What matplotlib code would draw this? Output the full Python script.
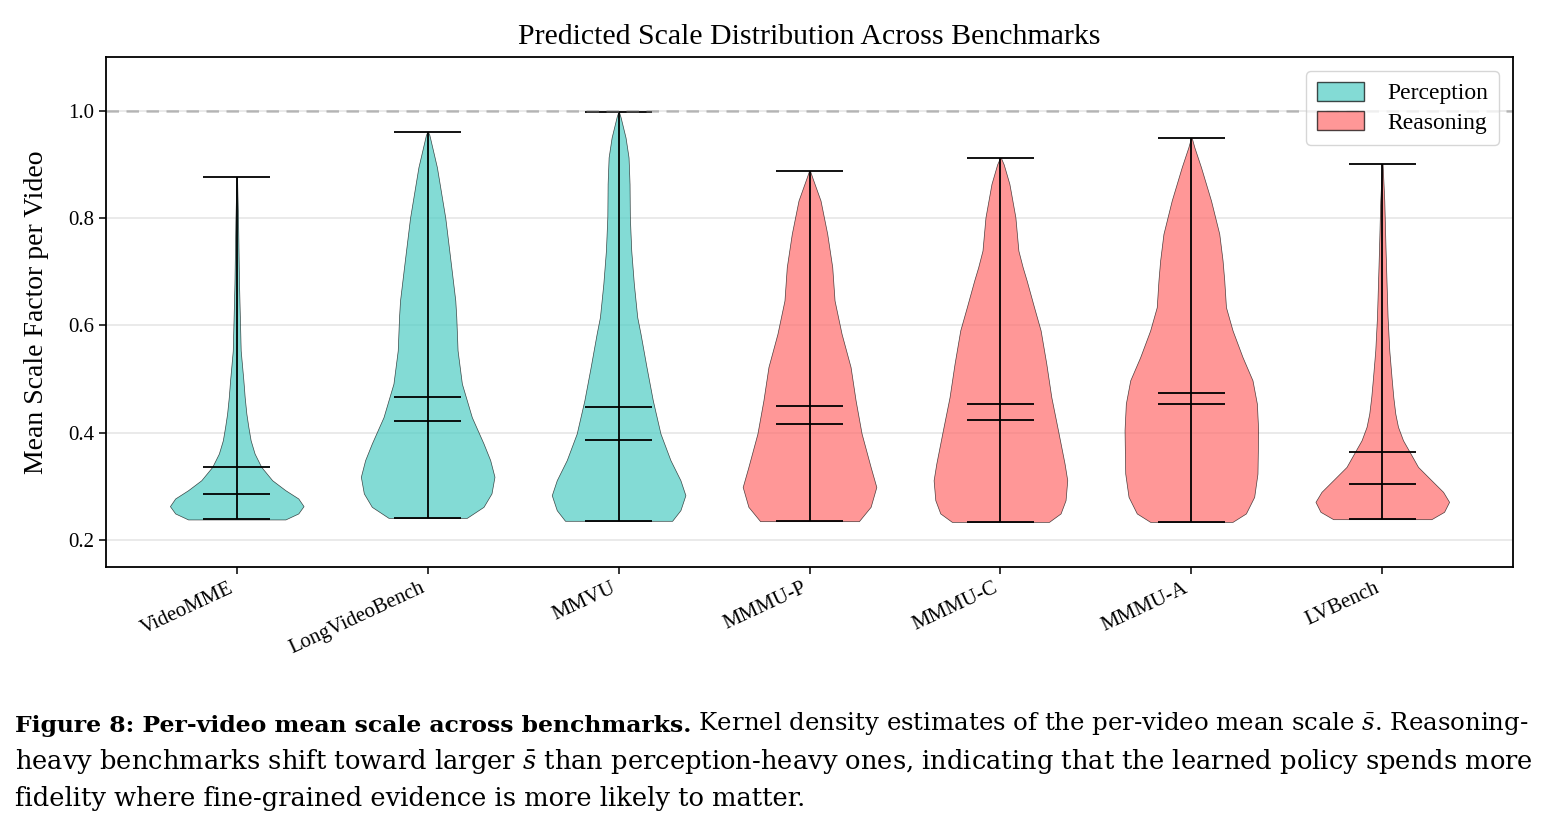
import matplotlib
matplotlib.use('Agg')
import matplotlib.pyplot as plt
from matplotlib.patches import Patch
import numpy as np

plt.rcParams['font.family'] = 'Liberation Serif'
plt.rcParams['mathtext.fontset'] = 'dejavuserif'

benchmarks = ['VideoMME', 'LongVideoBench', 'MMVU', 'MMMU-P', 'MMMU-C', 'MMMU-A', 'LVBench']
groups = ['Perception', 'Perception', 'Perception', 'Reasoning', 'Reasoning', 'Reasoning', 'Reasoning']
means = [0.337, 0.467, 0.448, 0.449, 0.454, 0.475, 0.364]
medians = [0.285, 0.422, 0.387, 0.416, 0.424, 0.453, 0.304]

# density outlines (scale value, relative half width)
videomme_y = [0.2385, 0.2497, 0.2633, 0.2776, 0.293, 0.3116, 0.3364, 0.3613, 0.386, 0.411, 0.4357, 0.4666,
              0.4977, 0.553, 0.678, 0.80, 0.876]
videomme_w = [49, 62, 67.3, 62, 49, 35.7, 24.7, 18, 14, 11.7, 9.7, 8, 6.7, 4, 2.3, 1.3, 0.3]
longvideo_y = [0.2415, 0.262, 0.287, 0.318, 0.349, 0.380, 0.429, 0.4916, 0.5535, 0.6155, 0.6465, 0.7085,
               0.80, 0.8945, 0.955, 0.960]
longvideo_w = [39.3, 56, 64, 67, 62.7, 56, 44.3, 34.3, 30, 28.7, 27.7, 23.7, 17.7, 9.3, 1.7, 0.5]
mmvu_y = [0.236, 0.2558, 0.2837, 0.3116, 0.349, 0.3985, 0.4605, 0.5225, 0.5845, 0.6155, 0.6776, 0.7395,
          0.8015, 0.8636, 0.913, 0.950, 0.988, 0.997]
mmvu_w = [53.7, 62, 67, 62, 52, 42, 34.3, 28, 22, 18.7, 15.3, 12.7, 11.3, 11, 10, 7, 2, 0.5]
mmmup_y = [0.2353, 0.262, 0.299, 0.3364, 0.3985, 0.4605, 0.5225, 0.5845, 0.6465, 0.7085, 0.7705, 0.8326,
           0.876, 0.888]
mmmup_w = [49.3, 61, 66.7, 61, 52, 46, 41, 32, 25, 22.7, 17.7, 11, 2.7, 0.5]
mmmuc_y = [0.234, 0.2497, 0.2744, 0.3116, 0.3427, 0.4047, 0.4666, 0.5287, 0.5907, 0.634, 0.6837, 0.7085,
           0.7395, 0.8015, 0.8636, 0.900, 0.912]
mmmuc_w = [48.7, 60.3, 65.3, 67, 64.3, 57.7, 51, 46, 40.3, 33.7, 26.3, 22.3, 18, 15, 9, 3.3, 0.5]
mmmua_y = [0.234, 0.2497, 0.2806, 0.324, 0.4047, 0.4543, 0.4977, 0.541, 0.5907, 0.634, 0.6837, 0.721,
           0.7705, 0.8326, 0.8945, 0.932, 0.9486]
mmmua_w = [41.3, 54.7, 63, 66.3, 67, 65.7, 61.3, 51.3, 41.3, 34.7, 33, 31.3, 28, 19.7, 9.7, 3, 0.5]
lvbench_y = [0.239, 0.2527, 0.2713, 0.2899, 0.3116, 0.3364, 0.3643, 0.386, 0.411, 0.4357, 0.4666, 0.4977,
             0.5535, 0.6155, 0.7395, 0.8326, 0.9008]
lvbench_w = [49, 61.7, 66.7, 60.7, 49, 35.7, 27.3, 20.7, 15.7, 13, 11, 9.5, 7, 5.3, 3.3, 2, 0.3]

outline_y = [videomme_y, longvideo_y, mmvu_y, mmmup_y, mmmuc_y, mmmua_y, lvbench_y]
outline_w = [videomme_w, longvideo_w, mmvu_w, mmmup_w, mmmuc_w, mmmua_w, lvbench_w]

colors = {'Perception': '#4ECDC4', 'Reasoning': '#FF6B6B'}

vpstats = []
for ys, ws, mn, md in zip(outline_y, outline_w, means, medians):
    vpstats.append({'coords': np.array(ys), 'vals': np.array(ws), 'mean': mn, 'median': md,
                    'min': ys[0], 'max': ys[-1]})

fig = plt.figure(figsize=(15.49, 8.26), dpi=100)
ax = fig.add_axes([0.0684, 0.3136, 0.9084, 0.6174])

pos = np.arange(len(benchmarks))
parts = ax.violin(vpstats, positions=pos, widths=0.7, showmeans=True, showmedians=True, showextrema=True)
for body, g in zip(parts['bodies'], groups):
    body.set_facecolor(colors[g])
    body.set_edgecolor('black')
    body.set_linewidth(0.5)
    body.set_alpha(0.7)
for key in ['cmeans', 'cmedians', 'cmins', 'cmaxes', 'cbars']:
    parts[key].set_color('black')
    parts[key].set_linewidth(1.3)

ax.axhline(1.0, color='gray', linestyle='--', linewidth=1.8, alpha=0.5, dashes=(5, 3))
ax.yaxis.grid(True, color='#e6e6e6', linewidth=1.2)
ax.set_axisbelow(True)

ax.set_xlim(-0.685, 6.685)
ax.set_ylim(0.15, 1.1)
ax.set_yticks([0.2, 0.4, 0.6, 0.8, 1.0])
ax.set_xticks(pos)
ax.set_xticklabels(benchmarks, rotation=25, ha='right', fontsize=15)
ax.tick_params(axis='y', labelsize=15)
ax.tick_params(length=5, width=1.1)
for sp in ax.spines.values():
    sp.set_linewidth(1.3)

ax.set_ylabel('Mean Scale Factor per Video', fontsize=20, labelpad=14)
ax.set_title('Predicted Scale Distribution Across Benchmarks', fontsize=21.5, pad=9)

handles = [Patch(facecolor=colors['Perception'], edgecolor='black', alpha=0.7, label='Perception'),
           Patch(facecolor=colors['Reasoning'], edgecolor='black', alpha=0.7, label='Reasoning')]
ax.legend(handles=handles, loc='upper right', fontsize=17, handlelength=2.0, handleheight=0.85,
          labelspacing=0.3, borderaxespad=0.6, handletextpad=1.0, borderpad=0.45)

# caption
t1 = fig.text(15 / 1549, 1 - 732 / 826, 'Figure 8: Per-video mean scale across benchmarks.',
              family='DejaVu Serif', weight='bold', fontsize=16.9, va='baseline')
ax.annotate(' Kernel density estimates of the per-video mean scale $\\bar{s}$. Reasoning-',
            xy=(1, 0), xycoords=t1, va='bottom', family='DejaVu Serif', fontsize=17.6,
            annotation_clip=False)
fig.text(15 / 1549, 1 - 769 / 826,
         'heavy benchmarks shift toward larger $\\bar{s}$ than perception-heavy ones, indicating that the learned policy spends more',
         family='DejaVu Serif', fontsize=18.5, va='baseline')
fig.text(15 / 1549, 1 - 806 / 826, 'fidelity where fine-grained evidence is more likely to matter.',
         family='DejaVu Serif', fontsize=18.5, va='baseline')

fig.savefig('out.png', dpi=100)
